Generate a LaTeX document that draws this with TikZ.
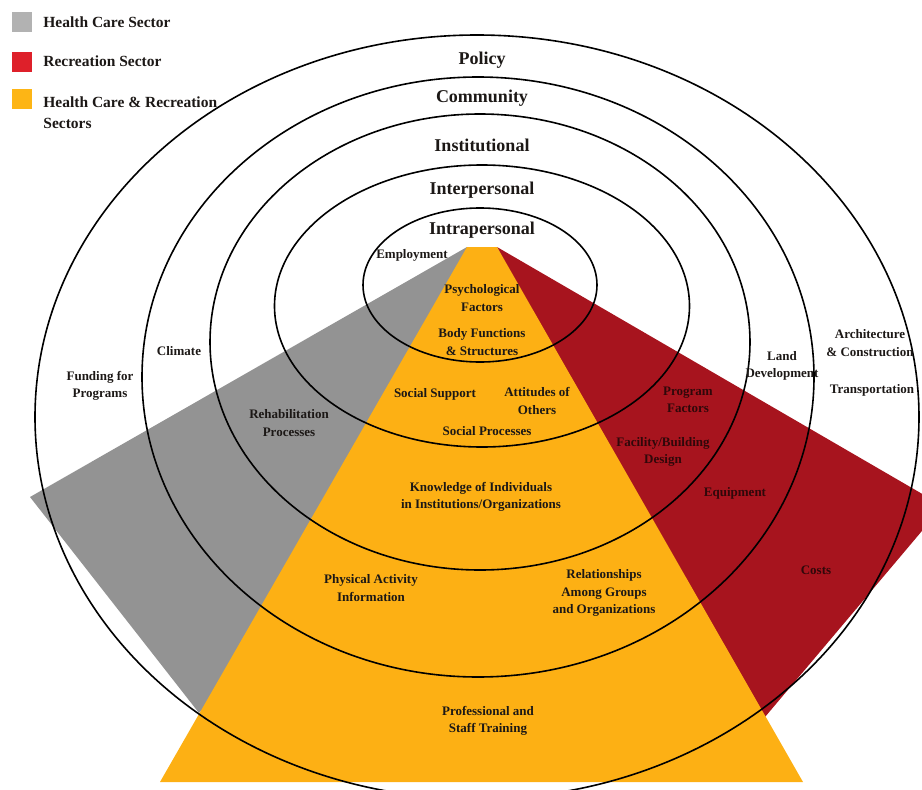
\documentclass[tikz,border=0pt]{standalone}
\usepackage{fontspec}
\setmainfont{Liberation Serif}
\usetikzlibrary{positioning,shapes.geometric}

\definecolor{hcgray}{RGB}{147,147,147}
\definecolor{recred}{RGB}{167,20,30}
\definecolor{bothorange}{RGB}{253,176,20}
\definecolor{keygray}{RGB}{178,178,178}
\definecolor{keyred}{RGB}{222,32,42}
\definecolor{keyorange}{RGB}{253,181,21}
\definecolor{inktext}{RGB}{28,24,22}
\definecolor{inkred}{RGB}{48,8,10}

\tikzset{
  ring/.style={draw, ellipse, line width=1.6pt, inner sep=0pt},
  level/.style={font=\fontsize{18}{20}\selectfont\bfseries, text=inktext, inner sep=0pt},
  factor/.style={font=\fontsize{13}{17.5}\selectfont\bfseries, text=inktext, align=center, inner sep=0pt},
  redfactor/.style={factor, text=inkred},
  keybox/.style={minimum size=20pt, inner sep=0pt},
  keytext/.style={font=\fontsize{15.5}{21}\selectfont\bfseries, text=inktext, align=left, inner sep=0pt}
}

\begin{document}
\begin{tikzpicture}[x=1pt, y=-1pt]

    \useasboundingbox (0,0) rectangle (922,790);
    \clip (0,0) rectangle (922,790);

    % Sectors
    \fill[hcgray] (467,247) -- (30,497) -- (199,713) -- (482,400) -- cycle;
    \fill[recred] (497,247) -- (943,506) -- (765,717) -- (600,450) -- cycle;
    \fill[bothorange] (467,247) -- (497,247) -- (803,782) -- (160,782) -- cycle;

    % Rings
    \node[ring, minimum width=884pt, minimum height=764pt] (policy) at (477,417) {};
    \node[ring, minimum width=672pt, minimum height=600pt] (community) at (478,377) {};
    \node[ring, minimum width=540pt, minimum height=456pt] (institutional) at (480,342) {};
    \node[ring, minimum width=415pt, minimum height=282pt] (interpersonal) at (482,306) {};
    \node[ring, minimum width=234pt, minimum height=154pt] (intrapersonal) at (480,285) {};

    % Level labels
    \node[level] (policyl) at (482,60) {Policy};
    \node[level] (communityl) at (482,98) {Community};
    \node[level] (institutionall) at (482,145) {Institutional};
    \node[level] (interpersonall) at (482,190) {Interpersonal};
    \node[level] (intrapersonall) at (482,230) {Intrapersonal};

    % Legend
    \node[keybox, fill=keygray] (keyhc) at (22,22) {};
    \node[keybox, fill=keyred] (keyrec) at (22,61.5) {};
    \node[keybox, fill=keyorange] (keyboth) at (22,99) {};
    \node[keytext, right=11pt of keyhc] (keyhcl) {Health Care Sector};
    \node[keytext, right=11pt of keyrec] (keyrecl) {Recreation Sector};
    \node[keytext, anchor=north west] (keybothl) at ([xshift=11pt, yshift=-8pt]keyboth.north east) {Health Care \& Recreation\\Sectors};

    % Intrapersonal factors
    \node[factor] (employment) at (412,255) {Employment};
    \node[factor] (psych) at (482,298) {Psychological\\Factors};
    \node[factor] (body) at (482,342) {Body Functions\\\& Structures};

    % Interpersonal factors
    \node[factor] (support) at (435,394) {Social Support};
    \node[factor] (attitudes) at (537,401) {Attitudes of\\Others};
    \node[factor] (processes) at (487,431) {Social Processes};
    \node[factor] (rehab) at (289,423) {Rehabilitation\\Processes};
    \node[redfactor] (program) at (688,400) {Program\\Factors};

    % Institutional factors
    \node[factor] (knowledge) at (481,497) {Knowledge of Individuals\\in Institutions/Organizations};
    \node[redfactor] (facility) at (663,452) {Facility/Building\\Design};
    \node[redfactor] (equipment) at (735,493) {Equipment};
    \node[factor] (climate) at (179,351) {Climate};
    \node[factor] (land) at (782,366) {Land\\Development};

    % Community factors
    \node[factor] (activity) at (371,588) {Physical Activity\\Information};
    \node[factor] (relations) at (604,593) {Relationships\\Among Groups\\and Organizations};
    \node[redfactor] (costs) at (816,570) {Costs};
    \node[factor] (funding) at (100,386) {Funding for\\Programs};
    \node[factor] (architecture) at (870,343) {Architecture\\\& Construction};
    \node[factor] (transport) at (872,390) {Transportation};

    % Policy factors
    \node[factor] (training) at (488,721) {Professional and\\Staff Training};

\end{tikzpicture}
\end{document}
